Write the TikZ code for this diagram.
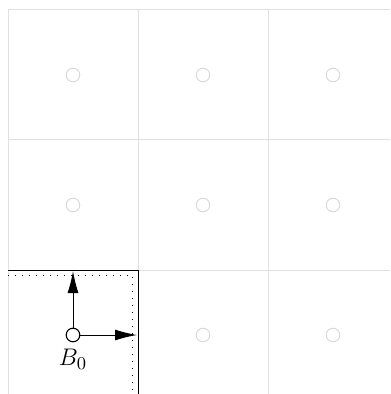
\documentclass[tikz,border=0pt]{standalone}
\usetikzlibrary{arrows.meta}
\begin{document}
\begin{tikzpicture}[x=0.5pt,y=-0.5pt,
  gridline/.style={draw=black!12,line width=0.5pt},
  cellmark/.style={circle,draw=black!15,line width=0.5pt,minimum size=6.8pt,inner sep=0pt},
  basemark/.style={circle,draw=black,line width=0.55pt,minimum size=6.8pt,inner sep=0pt},
  boxline/.style={draw=black,line width=0.5pt},
  dotline/.style={draw=black,line width=0.6pt,dash pattern=on 0.6pt off 2.9pt},
  vec/.style={draw=black,line width=0.5pt,-{Latex[length=11pt,width=5.5pt]}}]
\useasboundingbox (0,0) rectangle (390,394);
% grid
\foreach \x in {8,138,268} \draw[gridline] (\x,10) -- (\x,394);
\foreach \y in {10,140,270} \draw[gridline] (8,\y) -- (390,\y);
% cell markers
\node[cellmark] (c11) at (73,75) {};
\node[cellmark] (c12) at (203,75) {};
\node[cellmark] (c13) at (333,75) {};
\node[cellmark] (c21) at (73,205) {};
\node[cellmark] (c22) at (203,205) {};
\node[cellmark] (c23) at (333,205) {};
\node[cellmark] (c32) at (203,335) {};
\node[cellmark] (c33) at (333,335) {};
% highlighted cell
\coordinate (tl) at (8,270);
\coordinate (tr) at (138,270);
\coordinate (br) at (138,394);
\draw[boxline] (tl) -- (tr) -- (br);
\coordinate (dtl) at (8,275.5);
\coordinate (dtr) at (132.7,275.5);
\coordinate (dbr) at (132.7,394);
\draw[dotline] (dtl) -- (dtr) -- (dbr);
% base point and vectors
\node[basemark] (b0) at (73,335) {};
\coordinate (up) at (73,271);
\coordinate (rt) at (137,335);
\draw[vec] (b0) -- (up);
\draw[vec] (b0) -- (rt);
\node (lbl) at (73,359) {\fontsize{12.5pt}{15pt}\selectfont$B_0$};
\end{tikzpicture}
\end{document}
